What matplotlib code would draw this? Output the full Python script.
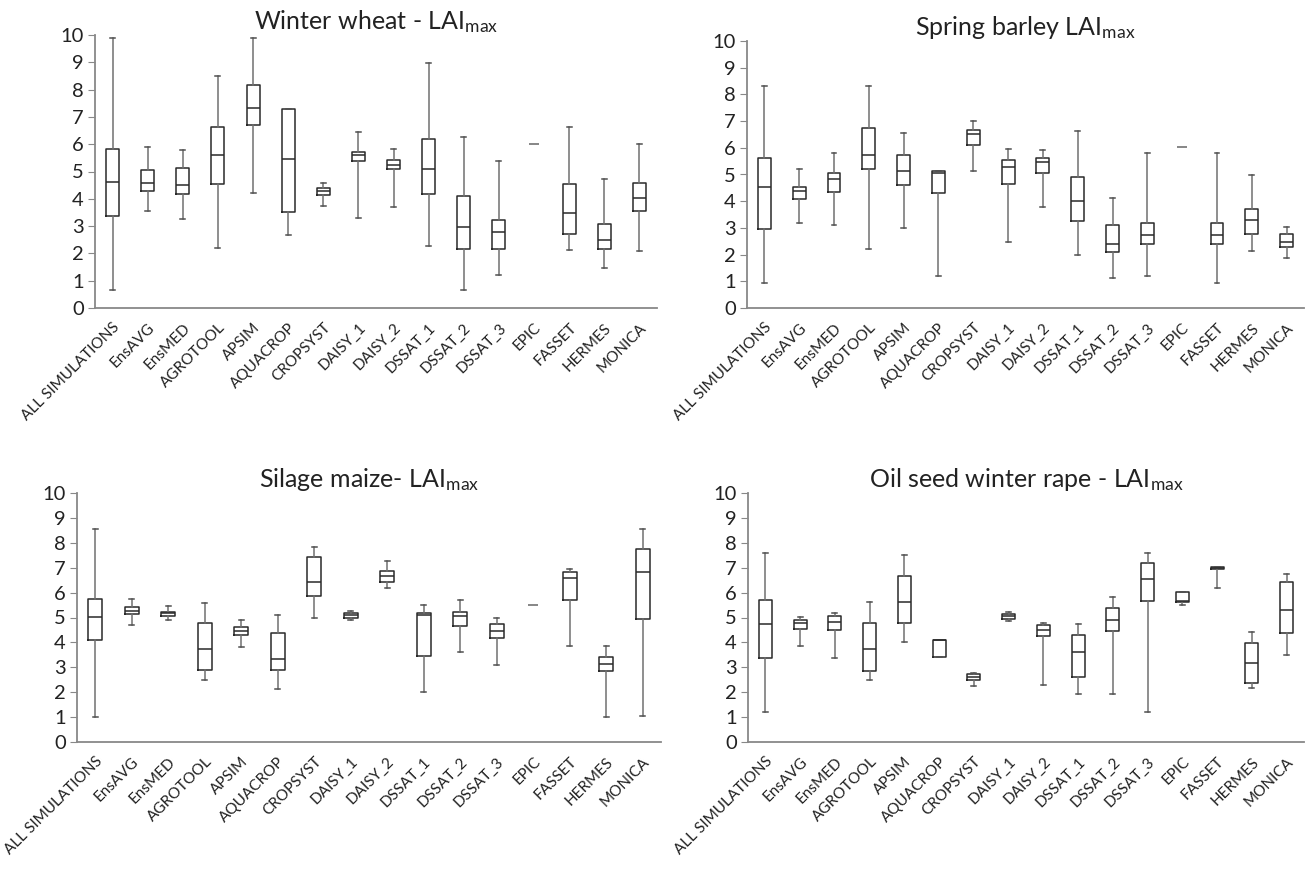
import matplotlib
matplotlib.use("Agg")
import matplotlib.pyplot as plt

plt.rcParams['font.family'] = ['Lato', 'DejaVu Sans']
plt.rcParams['mathtext.default'] = 'regular'
plt.rcParams['text.color'] = '#222222'

models = ["ALL SIMULATIONS", "EnsAVG", "EnsMED", "AGROTOOL", "APSIM", "AQUACROP",
          "CROPSYST", "DAISY_1", "DAISY_2", "DSSAT_1", "DSSAT_2", "DSSAT_3",
          "EPIC", "FASSET", "HERMES", "MONICA"]

# Winter wheat
ww_low = [0.67, 3.57, 3.27, 2.20, 4.21, 2.68, 3.72, 3.29, 3.70, 2.28, 0.67, 1.21, 6.00, 2.11, 1.46, 2.10]
ww_q1 = [3.38, 4.27, 4.18, 4.56, 6.71, 3.50, 4.15, 5.40, 5.09, 4.18, 2.16, 2.16, 6.00, 2.71, 2.16, 3.57]
ww_med = [4.60, 4.57, 4.49, 5.59, 7.34, 5.46, 4.29, 5.61, 5.24, 5.09, 2.96, 2.77, 6.00, 3.48, 2.50, 4.02]
ww_q3 = [5.83, 5.06, 5.12, 6.62, 8.16, 7.28, 4.39, 5.73, 5.43, 6.20, 4.12, 3.21, 6.00, 4.56, 3.07, 4.59]
ww_high = [9.88, 5.91, 5.79, 8.48, 9.88, 7.28, 4.57, 6.46, 5.83, 8.99, 6.28, 5.37, 6.00, 6.62, 4.73, 6.00]

# Spring barley
sb_low = [0.92, 3.18, 3.11, 2.20, 3.00, 1.21, 5.14, 2.48, 3.80, 1.99, 1.11, 1.21, 6.04, 0.92, 2.14, 1.87]
sb_q1 = [2.96, 4.07, 4.36, 5.22, 4.61, 4.32, 6.09, 4.65, 5.07, 3.24, 2.09, 2.39, 6.04, 2.39, 2.76, 2.27]
sb_med = [4.52, 4.40, 4.82, 5.72, 5.12, 5.04, 6.50, 5.27, 5.48, 4.02, 2.40, 2.74, 6.04, 2.74, 3.30, 2.49]
sb_q3 = [5.62, 4.55, 5.04, 6.74, 5.72, 5.12, 6.66, 5.54, 5.62, 4.92, 3.10, 3.18, 6.04, 3.18, 3.70, 2.76]
sb_high = [8.30, 5.19, 5.79, 8.30, 6.54, 5.12, 7.01, 5.95, 5.92, 6.63, 4.11, 5.82, 6.04, 5.82, 4.98, 3.05]

# Silage maize
sm_low = [1.01, 4.68, 4.90, 2.51, 3.83, 2.13, 4.97, 4.90, 6.17, 2.01, 3.61, 3.09, 5.49, 3.85, 1.01, 1.03]
sm_q1 = [4.09, 5.14, 5.06, 2.89, 4.28, 2.91, 5.88, 5.00, 6.44, 3.45, 4.67, 4.16, 5.49, 5.72, 2.85, 4.94]
sm_med = [5.03, 5.28, 5.17, 3.72, 4.47, 3.32, 6.42, 5.10, 6.67, 5.10, 5.07, 4.47, 5.49, 6.58, 3.15, 6.82]
sm_q3 = [5.73, 5.41, 5.23, 4.79, 4.60, 4.39, 7.42, 5.19, 6.85, 5.19, 5.21, 4.72, 5.49, 6.82, 3.41, 7.74]
sm_high = [8.55, 5.73, 5.48, 5.60, 4.90, 5.09, 7.83, 5.28, 7.25, 5.49, 5.69, 5.00, 5.49, 6.94, 3.85, 8.55]

# Oil seed winter rape
osr_low = [1.19, 3.86, 3.39, 2.50, 4.02, 3.40, 2.23, 4.87, 2.30, 1.91, 1.91, 1.19, 5.49, 6.19, 2.16, 3.50]
osr_q1 = [3.39, 4.53, 4.50, 2.87, 4.77, 3.40, 2.47, 4.95, 4.27, 2.60, 4.46, 5.65, 5.61, 6.96, 2.35, 4.37]
osr_med = [4.73, 4.79, 4.82, 3.72, 5.62, 4.08, 2.60, 5.06, 4.50, 3.60, 4.90, 6.53, 5.66, 7.00, 3.19, 5.29]
osr_q3 = [5.69, 4.90, 5.07, 4.79, 6.66, 4.10, 2.74, 5.14, 4.69, 4.30, 5.38, 7.20, 6.01, 7.03, 3.97, 6.41]
osr_high = [7.60, 5.01, 5.17, 5.61, 7.53, 4.10, 2.79, 5.22, 4.79, 4.73, 5.81, 7.60, 6.01, 7.03, 4.43, 6.73]


def draw_panel(ax, title, low, q1, med, q3, high):
    stats, single = [], []
    for i, name in enumerate(models):
        if low[i] == high[i]:
            single.append(i)
            continue
        stats.append(dict(label=name, whislo=low[i], q1=q1[i], med=med[i],
                          q3=q3[i], whishi=high[i]))
    pos = [i for i in range(len(models)) if i not in single]
    ax.bxp(stats, positions=pos, widths=0.37, capwidths=0.14, showfliers=False,
           boxprops=dict(color='#2a2a2a', linewidth=1.1),
           medianprops=dict(color='#2a2a2a', linewidth=1.1),
           whiskerprops=dict(color='#707070', linewidth=1.1),
           capprops=dict(color='#505050', linewidth=1.1))
    # models with a single value are shown as a short dash
    for i in single:
        ax.plot([i], [med[i]], marker='_', markersize=7, color='#666666', mew=1.1)

    ax.set_xlim(-0.5, len(models) - 0.5)
    ax.set_ylim(0, 10)
    ax.set_yticks(range(0, 11))
    ax.set_xticks(range(len(models)))
    ax.set_xticklabels(models, rotation=45, ha='right', rotation_mode='anchor',
                       fontsize=11, color='#222222')
    ax.tick_params(axis='x', length=0, pad=9)
    ax.tick_params(axis='y', length=5, color='#888888', labelsize=14.5, pad=3,
                   labelcolor='#222222')
    for s in ['top', 'right']:
        ax.spines[s].set_visible(False)
    for s in ['left', 'bottom']:
        ax.spines[s].set_color('#888888')
        ax.spines[s].set_linewidth(1.3)
    ax.set_title(title, fontsize=18, pad=4)


fig = plt.figure(figsize=(13.06, 8.77), dpi=100)
W, H = 1306, 877


def px_axes(left, right, top, bottom):
    return fig.add_axes([left / W, 1 - bottom / H, (right - left) / W, (bottom - top) / H])


ax1 = px_axes(95, 657, 35, 308)
ax2 = px_axes(747, 1304, 41, 308)
ax3 = px_axes(77, 661, 493, 742)
ax4 = px_axes(748, 1304, 493, 742)

draw_panel(ax1, 'Winter wheat - LAI$_{max}$', ww_low, ww_q1, ww_med, ww_q3, ww_high)
draw_panel(ax2, 'Spring barley LAI$_{max}$', sb_low, sb_q1, sb_med, sb_q3, sb_high)
draw_panel(ax3, 'Silage maize- LAI$_{max}$', sm_low, sm_q1, sm_med, sm_q3, sm_high)
draw_panel(ax4, 'Oil seed winter rape - LAI$_{max}$', osr_low, osr_q1, osr_med, osr_q3, osr_high)

plt.savefig("out.png", dpi=100)
